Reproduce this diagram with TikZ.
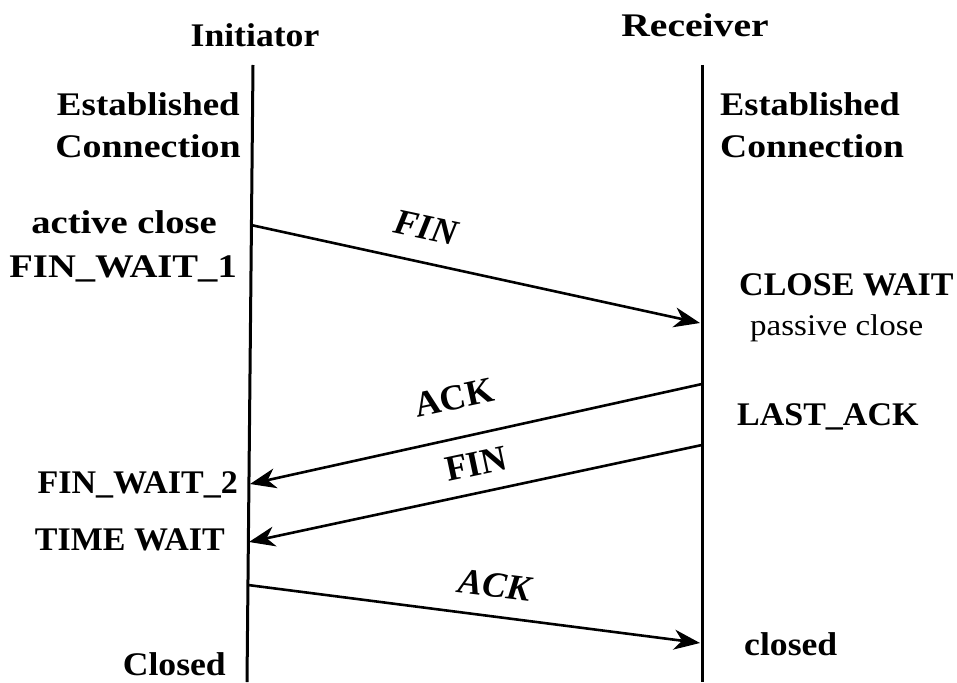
\documentclass[tikz,border=0pt]{standalone}
\usepackage{fontspec}
\setmainfont{Liberation Serif}
\usetikzlibrary{arrows.meta}
\begin{document}
\begin{tikzpicture}[x=1pt,y=-1pt,
  lifeline/.style={line width=3pt},
  msg/.style={line width=2.6pt,-{Stealth[length=26pt,width=20pt,inset=8pt]}},
  state/.style={inner sep=0pt,font=\bfseries\fontsize{33}{38}\selectfont\addfontfeatures{FakeStretch=#1}},
  state/.default=1,
  thin state/.style={inner sep=0pt,font=\fontsize{30}{36}\selectfont\addfontfeatures{FakeStretch=#1}},
  thin state/.default=1,
  msglabel/.style={inner sep=0pt,font=\bfseries\fontsize{36}{42}\selectfont}]
\useasboundingbox (0,0) rectangle (957,682);

% lifelines
\coordinate (itop) at (253,65);
\coordinate (ibot) at (247,682);
\coordinate (rtop) at (702,65);
\coordinate (rbot) at (702,682);
\draw[lifeline] (itop) -- (ibot);
\draw[lifeline] (rtop) -- (rbot);

% party names
\node[state=1.08,anchor=base] (initiator) at (255,47) {Initiator};
\node[state=1.2,anchor=base] (receiver) at (695,37) {Receiver};

% states of the initiator
\node[state=1.12,anchor=base east] (lest) at (240,115) {Established};
\node[state=1.15,anchor=base east] (lcon) at (241,157) {Connection};
\node[state=1.17,anchor=base east] (active) at (217,233) {active close};
\node[state=1.17,anchor=base east] (fw1) at (237,277) {FIN\_WAIT\_1};
\node[state=1.03,anchor=base east] (fw2) at (238,493) {FIN\_WAIT\_2};
\node[state=1.03,anchor=base east] (tw) at (225,550) {TIME WAIT};
\node[state=1.08,anchor=base east] (lclosed) at (226,675) {Closed};

% states of the receiver
\node[state=1.1,anchor=base west] (rest) at (720,115) {Established};
\node[state=1.14,anchor=base west] (rcon) at (720,157) {Connection};
\node[state=1.03,anchor=base west] (cw) at (739,295) {CLOSE WAIT};
\node[thin state=1.1,anchor=base west] (passive) at (750,335) {passive close};
\node[state=1.03,anchor=base west] (lastack) at (737,425) {LAST\_ACK};
\node[state=1.08,anchor=base west] (rclosed) at (744,655) {closed};

% message end points on the lifelines
\coordinate (s1) at (251,225);
\coordinate (e1) at (700,323);
\coordinate (s2) at (702,384);
\coordinate (e2) at (250,484);
\coordinate (s3) at (702,445);
\coordinate (e3) at (249,542);
\coordinate (s4) at (248,585);
\coordinate (e4) at (700,643);

% messages
\draw[msg] (s1) -- (e1);
\draw[msg] (s2) -- (e2);
\draw[msg] (s3) -- (e3);
\draw[msg] (s4) -- (e4);

% message labels
\node[msglabel,rotate=-12] (fin1) at (426,228) {\itshape FIN};
\node[msglabel,rotate=12] (ack1) at (454,398) {ACK};
\node[msglabel,rotate=12] (fin2) at (476,464) {FIN};
\node[msglabel,rotate=-7] (ack2) at (495,585) {\itshape ACK};
\end{tikzpicture}
\end{document}
